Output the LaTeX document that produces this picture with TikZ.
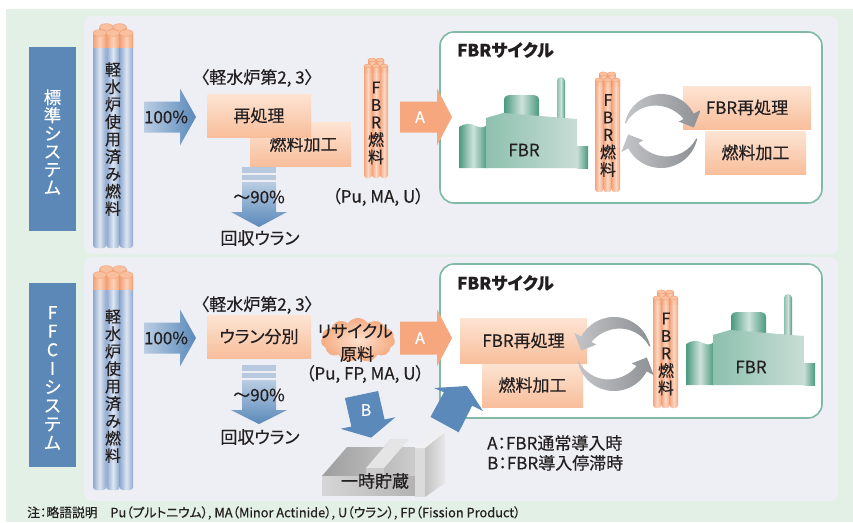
\documentclass[tikz,border=0pt]{standalone}
\usepackage{fontspec}
\setmainfont{Noto Sans CJK JP}[FakeBold=0.35, RawFeature={+palt}]
\usetikzlibrary{shapes.symbols}

\definecolor{bggreen}{HTML}{E2F0E5}
\definecolor{panel}{HTML}{EEEFF5}
\definecolor{labelblue}{HTML}{5B88B6}
\definecolor{arrowblue}{HTML}{5A89BA}
\definecolor{arrowlight}{HTML}{BACDE3}
\definecolor{stripeblue}{HTML}{B7C9DF}
\definecolor{peachlight}{HTML}{FDE4D3}
\definecolor{peachdark}{HTML}{F8BE9B}
\definecolor{orangeA}{HTML}{F6A77D}
\definecolor{cyclegreen}{HTML}{80B9A4}
\definecolor{ink}{HTML}{231F20}
\definecolor{rodblue}{HTML}{8EA8CE}
\definecolor{rodbluelight}{HTML}{DDE6F2}
\definecolor{rodorange}{HTML}{F3A57D}
\definecolor{rodorangelight}{HTML}{FCD8C4}
\definecolor{capedge}{HTML}{F2A076}
\definecolor{capmid}{HTML}{FCD2B8}
\definecolor{captop}{HTML}{F9C09F}
\definecolor{plantdark}{HTML}{4A9980}
\definecolor{plantmid}{HTML}{8DC0AE}
\definecolor{plantlight}{HTML}{CFE3DB}
\definecolor{plantpale}{HTML}{C8DDD5}
\definecolor{ringlight}{HTML}{C3C5C8}
\definecolor{ringdark}{HTML}{8D9094}
\definecolor{cloudin}{HTML}{FCE0CD}
\definecolor{cloudout}{HTML}{F5AC83}

% a bundle of fuel pins: left x, top y, bottom y, width, end of cap y, pin edge colour, pin centre colour
\newcommand\rodbundle[7]{%
  \pgfmathsetmacro\rw{#4/3}%
  \foreach \k in {1,2}{%
    \pgfmathsetmacro\cx{#1+\k*\rw}%
    \path[left color=#6, right color=#6, middle color=#7, rounded corners=3] (\cx-\rw/2,#2) rectangle (\cx+\rw/2,#3-4);
    \path[left color=capedge, right color=capedge, middle color=capmid] (\cx-\rw/2,#2) rectangle (\cx+\rw/2,#5-5);
    \path[fill=captop, draw=capedge, line width=0.4pt] (\cx,#2) ellipse [x radius=\rw/2, y radius=\rw/4];
  }%
  \foreach \k in {0,1,2}{%
    \pgfmathsetmacro\cx{#1+(\k+0.5)*\rw}%
    \path[left color=#6, right color=#6, middle color=#7, rounded corners=3] (\cx-\rw/2,#2+6) rectangle (\cx+\rw/2,#3);
    \path[left color=capedge, right color=capedge, middle color=capmid] (\cx-\rw/2,#2+6) rectangle (\cx+\rw/2,#5);
    \path[fill=captop, draw=capedge, line width=0.4pt] (\cx,#2+6) ellipse [x radius=\rw/2, y radius=\rw/4];
  }%
}

% block arrow pointing right: tail x, head base x, tip x, centre y, shaft half height, head half height, style
\newcommand\rightblock[7]{%
  \path[#7] (#1,#4-#5) -- (#2,#4-#5) -- (#2,#4-#6) -- (#3,#4) -- (#2,#4+#6) -- (#2,#4+#5) -- (#1,#4+#5) -- cycle;}

% block arrow pointing down: centre x, tail y, head base y, tip y, shaft half width, head half width, style
\newcommand\downblock[7]{%
  \path[#7] (#1-#5,#2) -- (#1+#5,#2) -- (#1+#5,#3) -- (#1+#6,#3) -- (#1,#4) -- (#1-#6,#3) -- (#1-#5,#3) -- cycle;}

% fast breeder reactor plant, drawn at its upper position
\newcommand\fbrplant{%
  \path[left color=plantdark, right color=plantdark, middle color=plantlight]
    (504,116) -- (504,100) .. controls (504,96) and (507,95) .. (512,95) -- (531,95)
    .. controls (536,95) and (539,96) .. (539,100) -- (539,117) -- cycle;
  \path[left color=plantmid, right color=plantdark, middle color=plantlight]
    (557,120) -- (557,81) arc[start angle=180, end angle=360, radius=4] -- (565,120) -- cycle;
  \path[left color=plantdark, right color=plantdark, middle color=plantlight]
    (459,168) -- (459,127) .. controls (465,123) and (471,123) .. (476,126)
    .. controls (480,128) and (484,128) .. (487,125) -- (487,168) -- cycle;
  \path[left color=plantmid, right color=plantpale] (486,168) -- (486,118) -- (503,113) -- (577,119) -- (577,168) -- cycle;
  \path[left color=plantpale, right color=plantdark] (577,168) -- (577,146) -- (588,146) -- (588,168) -- cycle;
  \node[txt] at (524,150) {FBR};
}

% one curved arrow of the recycling ring, centred at the origin
\newcommand\ringarrow{%
  \path[left color=ringlight, right color=ringdark]
    plot[domain=192:332, samples=40, variable=\ang] ({37*cos(\ang)},{37*sin(\ang)})
    -- ({45*cos(332)},{45*sin(332)})
    -- ({33*cos(354)},{33*sin(354)})
    -- ({20*cos(332)},{20*sin(332)})
    -- plot[domain=332:192, samples=40, variable=\ang]
       ({(36-12*sin((\ang-192)*0.857))*cos(\ang)},{(36-12*sin((\ang-192)*0.857))*sin(\ang)})
    -- cycle;
}

\tikzset{
  txt/.style={text=ink, inner sep=0pt, font=\fontsize{17}{20}\selectfont},
  procbox/.style={rectangle, inner sep=0pt, top color=peachlight, bottom color=peachdark,
                  text=ink, font=\fontsize{17}{20}\selectfont},
  sidebox/.style={rectangle, fill=labelblue, minimum width=47, minimum height=184, inner sep=0pt},
  vstack/.style={align=center, inner sep=0pt, text=ink, font=\fontsize{16}{17.4}\selectfont},
  cyclebox/.style={draw=cyclegreen, line width=1.6pt, fill=white, rounded corners=14, inner sep=0pt},
  cycletitle/.style={text=ink, inner sep=0pt, anchor=west, font=\fontsize{17}{20}\selectfont\bfseries},
  wlabel/.style={text=white, inner sep=0pt, font=\fontsize{16}{20}\selectfont},
}

\begin{document}
\begin{tikzpicture}[x=1pt, y=-1pt]
\useasboundingbox (0,0) rectangle (853,522);
\fill[white] (0,0) rectangle (853,522);
\fill[bggreen] (6,9) rectangle (853,522);
\fill[panel, rounded corners=8] (84,16) rectangle (838,254);
\fill[panel, rounded corners=8] (84,257) rectangle (838,501);

% ---------------- standard system ----------------
\node[sidebox] (stdlab) at (52.5,139) {};
\node[vstack, text=white, font=\fontsize{17.5}{18}\selectfont] (stdtxt) at (52.5,142) {標\\準\\シ\\ス\\テ\\ム};

\rodbundle{93}{27}{248}{40}{47}{rodblue}{rodbluelight}
\node[vstack] (lwr1) at (113,139) {軽\\水\\炉\\使\\用\\済\\み\\燃\\料};

\rightblock{144}{180}{196}{117}{15.5}{28.5}{left color=arrowlight, right color=arrowblue}
\node[txt] (pct1) at (166,117) {100\%};

\node[txt] (gen1) at (257,78) {〈軽水炉第2, 3〉};
\node[procbox, minimum width=101, minimum height=44] (fab1) at (300.5,144) {\hspace*{6pt}燃料加工};
\node[procbox, minimum width=104, minimum height=43] (rep1) at (259,115.5) {再処理};

\fill[stripeblue] (242,167) rectangle (276,172.5);
\fill[stripeblue] (242,174.5) rectangle (276,180);
\downblock{259}{182}{212}{227}{17}{28}{top color=arrowlight, bottom color=arrowblue}
\node[txt] (ru1) at (259,197) {～90\%};
\node[txt] (ruc1) at (260,238) {回収ウラン};

\rodbundle{364}{60}{178}{24}{72}{rodorange}{rodorangelight}
\node[vstack] (fuel1) at (376,123) {F\\B\\R\\燃\\料};
\node[txt] (comp1) at (378,197) {（Pu, MA, U）};

\node[cyclebox, minimum width=382, minimum height=171] (cyc1) at (631,117.5) {};
\node[cycletitle] (cyct1) at (457,50) {FBRサイクル};
\rightblock{400}{437}{452}{117}{15.5}{28.5}{fill=orangeA}
\node[wlabel] (a1) at (420,117) {A};

\fbrplant
\rodbundle{595}{74}{192}{25}{86}{rodorange}{rodorangelight}
\node[vstack] (fuel2) at (608,135.5) {F\\B\\R\\燃\\料};
\node[procbox, minimum width=101, minimum height=43] (fab2) at (755.5,152.5) {燃料加工};
\node[procbox, minimum width=128, minimum height=43] (rep2) at (747,107.5) {FBR再処理};
\begin{scope}[shift={(661,131)}]
  \ringarrow
  \begin{scope}[rotate=180]\ringarrow\end{scope}
\end{scope}

% ---------------- FFCI system ----------------
\node[sidebox] (ffclab) at (52.5,375) {};
\node[vstack, text=white, font=\fontsize{17.5}{18.6}\selectfont] (ffctxt) at (52.5,378) {F\\F\\C\\I\\シ\\ス\\テ\\ム};

\rodbundle{93}{269}{490}{40}{289}{rodblue}{rodbluelight}
\node[vstack] (lwr2) at (113,386) {軽\\水\\炉\\使\\用\\済\\み\\燃\\料};

\rightblock{144}{180}{196}{338}{15.5}{28.5}{left color=arrowlight, right color=arrowblue}
\node[txt] (pct2) at (166,338) {100\%};

\node[txt] (gen2) at (257,305) {〈軽水炉第2, 3〉};
\node[procbox, minimum width=104, minimum height=43] (sep) at (259,336.5) {ウラン分別};

\fill[stripeblue] (242,365) rectangle (276,370.5);
\fill[stripeblue] (242,372.5) rectangle (276,378);
\downblock{259}{380}{410}{424}{17}{28}{top color=arrowlight, bottom color=arrowblue}
\node[txt] (ru2) at (259,395) {～90\%};
\node[txt] (ruc2) at (260,437) {回収ウラン};

\node[cloud, cloud puffs=11, cloud puff arc=110, aspect=1.7, minimum width=74, minimum height=44,
      inner color=cloudin, outer color=cloudout] (cloud) at (358,340) {};
\node[txt] (rec1) at (355,331) {リサイクル};
\node[txt] (rec2) at (357,354) {原料};
\node[txt] (comp2) at (365,374) {（Pu, FP, MA, U）};

% interim storage
\path[left color=black!38, right color=black!20] (322,476) -- (347,447) -- (415,447) -- (415,476) -- cycle;
\path[left color=black!16, right color=black!30] (322,476) rectangle (415,495);
\path[fill=black!30] (366,468) -- (391,439) -- (391,447) -- (366,476) -- cycle;
\path[fill=black!10] (366,468) -- (384,468) -- (409,439) -- (391,439) -- cycle;
\path[fill=black!20] (366,468) rectangle (384,476);
\path[fill=black!14] (415,448) rectangle (425,497);
\path[left color=black!24, right color=black!9] (425,448) -- (445,432) -- (445,483) -- (425,497) -- cycle;
\path[fill=black!6] (415,448) -- (425,448) -- (445,432) -- (435,432) -- cycle;
\node[txt] (store) at (375,481) {一時貯蔵};

\path[fill=arrowblue] (344.9,398.0) -- (378.1,391.0) -- (384.6,419.5) -- (395.4,417.2)
  -- (371.1,437.7) -- (340.6,428.8) -- (351.4,426.5) -- cycle;
\node[wlabel] (b) at (366,410) {B};

\node[cyclebox, minimum width=382, minimum height=154] (cyc2) at (631,341) {};
\node[cycletitle] (cyct2) at (457,283) {FBRサイクル};
\rightblock{400}{437}{452}{338}{16.5}{28.5}{fill=orangeA}
\node[wlabel] (a2) at (420,338) {A};

\path[fill=arrowblue] (430.5,416.9) -- (443.9,392.3) -- (434,388) -- (467,386)
  -- (483,411) -- (472.1,405.7) -- (458.7,432.3) -- cycle;

\begin{scope}[shift={(227,217)}]\fbrplant\end{scope}
\rodbundle{653}{292}{408}{25}{304}{rodorange}{rodorangelight}
\node[vstack] (fuel3) at (666,354) {F\\B\\R\\燃\\料};
\node[procbox, minimum width=101, minimum height=44] (fab3) at (532.5,385) {燃料加工};
\node[procbox, minimum width=127, minimum height=45] (rep3) at (523.5,340.5) {FBR再処理};
\begin{scope}[shift={(614,354)}, xscale=-1]
  \ringarrow
  \begin{scope}[rotate=180]\ringarrow\end{scope}
\end{scope}

\node[txt, anchor=west] (keyA) at (487,443) {A：FBR通常導入時};
\node[txt, anchor=west] (keyB) at (487,463) {B：FBR導入停滞時};

\node[txt, anchor=west, font=\fontsize{12.8}{14}\selectfont] (note) at (27,513)
  {注：略語説明\quad Pu（プルトニウム）, MA（Minor Actinide）, U（ウラン）, FP（Fission Product）};
\end{tikzpicture}
\end{document}
